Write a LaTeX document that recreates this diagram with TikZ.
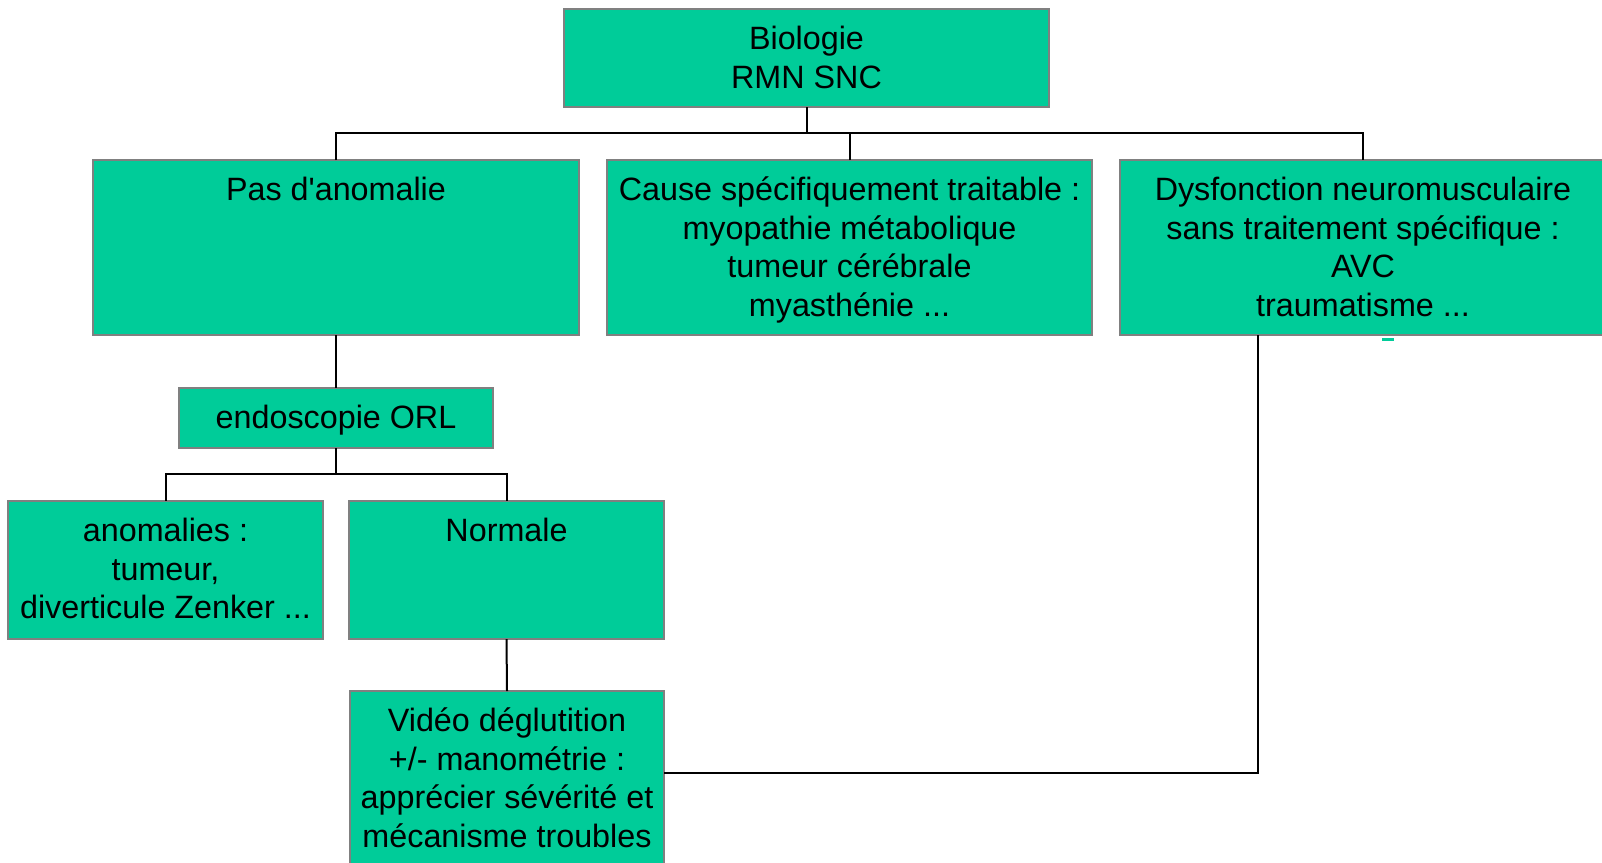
\documentclass[tikz,border=0pt]{standalone}
\usepackage{fontspec}
\setmainfont{Liberation Sans}[Ligatures=TeXOff]
\definecolor{boxgreen}{RGB}{0,204,153}
\definecolor{boxgray}{RGB}{128,128,128}
\newcommand{\bxt}[3]{\parbox[c][#2][t]{#1}{\centering\rule{0pt}{40.5pt}#3}}
\begin{document}
\begin{tikzpicture}[x=1pt,y=-1pt,
  gbox/.style={draw=boxgray,line width=2pt,fill=boxgreen,inner sep=0pt,outer sep=0pt,
    font=\fontsize{32.3}{38.5}\selectfont},
  conn/.style={draw=black,line width=2pt}]
\useasboundingbox (0,0) rectangle (1602,862);
\clip (0,0) rectangle (1602,862);
\node[gbox] (top) at (806.5,58) {\bxt{485pt}{98pt}{Biologie\\RMN SNC}};
\node[gbox] (pas) at (336,247.5) {\bxt{486pt}{175pt}{Pas d'anomalie}};
\node[gbox] (cause) at (849.5,247.5) {\bxt{485pt}{175pt}{Cause spécifiquement traitable :\\myopathie métabolique\\tumeur cérébrale\\myasthénie ...}};
\node[gbox] (dys) at (1363,247.5) {\bxt{486pt}{175pt}{Dysfonction neuromusculaire\\sans traitement spécifique :\\AVC\\traumatisme ...}};
\node[gbox] (endo) at (336,418) {\bxt{314pt}{60pt}{endoscopie ORL}};
\node[gbox] (anom) at (165.5,570) {\bxt{315pt}{138pt}{anomalies :\\tumeur,\\diverticule Zenker ...}};
\node[gbox] (norm) at (506.5,570) {\bxt{315pt}{138pt}{Normale}};
\node[gbox] (video) at (507,783) {\bxt{314pt}{184pt}{Vidéo déglutition\\+/- manométrie :\\apprécier sévérité et\\mécanisme troubles}};
\coordinate (bus) at (0,133);
\coordinate (bus2) at (0,474);
\draw[conn] (top.south) -- (top.south |- bus);
\draw[conn] (pas.north) -- (pas.north |- bus) -| (dys.north);
\draw[conn] (cause.north) -- (cause.north |- bus);
\draw[conn] (pas.south) -- (endo.north);
\draw[conn] (endo.south) -- (endo.south |- bus2);
\draw[conn] (anom.north) -- (anom.north |- bus2) -| (norm.north);
\draw[conn] (norm.south) -- (video.north);
\draw[conn] ([yshift=10pt]video.east) -| ([xshift=-105pt]dys.south);
\fill[boxgreen] (1382,338) rectangle (1394,340.5);
\end{tikzpicture}
\end{document}
